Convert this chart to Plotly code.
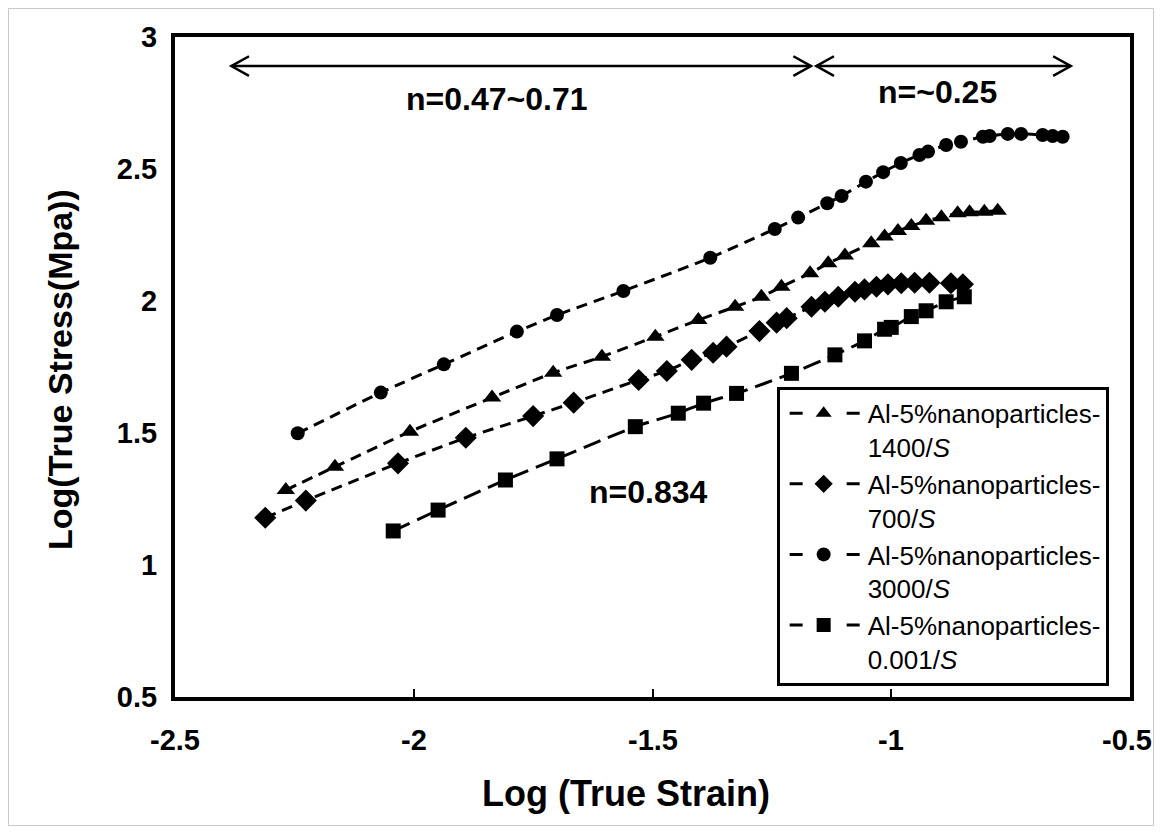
import plotly.graph_objects as go

# ---------------- data ----------------
x_1400 = [-2.268, -2.165, -2.008, -1.836, -1.708, -1.606, -1.494, -1.404, -1.327, -1.272,
          -1.230, -1.170, -1.132, -1.097, -1.042, -1.014, -0.986, -0.958, -0.927, -0.895,
          -0.861, -0.836, -0.805, -0.777]
y_1400 = [1.284, 1.372, 1.505, 1.634, 1.728, 1.789, 1.865, 1.928, 1.978, 2.016,
          2.054, 2.105, 2.143, 2.172, 2.219, 2.244, 2.265, 2.284, 2.304, 2.317,
          2.332, 2.336, 2.338, 2.342]

x_700 = [-2.311, -2.226, -2.033, -1.891, -1.750, -1.665, -1.529, -1.470, -1.418, -1.373,
         -1.345, -1.276, -1.240, -1.219, -1.167, -1.139, -1.111, -1.076, -1.056, -1.031,
         -1.007, -0.979, -0.951, -0.920, -0.875, -0.850]
y_700 = [1.179, 1.244, 1.385, 1.482, 1.564, 1.615, 1.701, 1.735, 1.777, 1.804,
         1.827, 1.886, 1.918, 1.935, 1.978, 1.997, 2.016, 2.035, 2.044, 2.054,
         2.063, 2.067, 2.069, 2.069, 2.067, 2.063]

x_3000 = [-2.243, -2.069, -1.937, -1.784, -1.700, -1.561, -1.379, -1.244, -1.195, -1.134,
          -1.104, -1.053, -1.017, -0.980, -0.941, -0.923, -0.885, -0.854, -0.808, -0.794,
          -0.756, -0.728, -0.683, -0.662, -0.641]
y_3000 = [1.499, 1.653, 1.760, 1.884, 1.947, 2.038, 2.164, 2.273, 2.316, 2.370,
          2.398, 2.452, 2.488, 2.523, 2.553, 2.566, 2.591, 2.603, 2.622, 2.625,
          2.633, 2.633, 2.629, 2.625, 2.622]

x_0001 = [-2.043, -1.949, -1.808, -1.700, -1.536, -1.446, -1.393, -1.324, -1.209, -1.118,
          -1.056, -1.014, -1.000, -0.958, -0.927, -0.885, -0.847]
y_0001 = [1.129, 1.208, 1.322, 1.402, 1.524, 1.575, 1.613, 1.650, 1.726, 1.796,
          1.849, 1.893, 1.900, 1.941, 1.963, 1.997, 2.016]

series_names = ["Al-5%nanoparticles-<br>1400/<i>S</i>",
                "Al-5%nanoparticles-<br>700/<i>S</i>",
                "Al-5%nanoparticles-<br>3000/<i>S</i>",
                "Al-5%nanoparticles-<br>0.001/<i>S</i>"]

xtick_vals = [-2.5, -2, -1.5, -1, -0.5]
xtick_text = ["-2.5", "-2", "-1.5", "-1", "-0.5"]
ytick_vals = [0.5, 1, 1.5, 2, 2.5, 3]
ytick_text = ["0.5", "1", "1.5", "2", "2.5", "3"]

# ---------------- layout constants ----------------
FONT = "Arial, Liberation Sans, sans-serif"
W, H = 1146, 818
ML, MR, MT, MB = 167, 24, 29, 129
PW, PH = W - ML - MR, H - MT - MB

fig = go.Figure()

styles = [
    (x_1400, y_1400, "triangle-up", 16, "11px,7px"),
    (x_700, y_700, "diamond", 17, "11px,7px"),
    (x_3000, y_3000, "circle", 14, "11px,7px"),
    (x_0001, y_0001, "square", 15, "18px,8px"),
]
for name, (xs, ys, sym, size, dash) in zip(series_names, styles):
    fig.add_trace(go.Scatter(
        x=xs, y=ys, mode="lines+markers", name=name, showlegend=False,
        line=dict(color="black", width=3, dash=dash, shape="spline", smoothing=0.6),
        marker=dict(symbol=sym, size=size, color="black"),
    ))
# legend entries ("- marker -" symbol as in the reference)
for name, (xs, ys, sym, size, dash) in zip(series_names, styles):
    fig.add_trace(go.Scatter(
        x=[None], y=[None], mode="lines+markers", name=name, showlegend=True,
        line=dict(color="black", width=3, dash="0px,5px,13px,44px,13px,10px"),
        marker=dict(symbol=sym, size=14, color="black"),
    ))

# ---------------- arrows ----------------
arrow_y = 2.89
arrows = [(-2.382, -1.168), (-1.157, -0.624)]
hx, hy = 0.037, 0.037
shapes = []
for a, b in arrows:
    shapes.append(dict(type="line", xref="x", yref="y", x0=a, x1=b, y0=arrow_y, y1=arrow_y,
                       line=dict(color="black", width=2.5)))
    shapes.append(dict(type="path", xref="x", yref="y",
                       path=f"M {a+hx},{arrow_y+hy} L {a},{arrow_y} L {a+hx},{arrow_y-hy}",
                       line=dict(color="black", width=2.5)))
    shapes.append(dict(type="path", xref="x", yref="y",
                       path=f"M {b-hx},{arrow_y+hy} L {b},{arrow_y} L {b-hx},{arrow_y-hy}",
                       line=dict(color="black", width=2.5)))

# figure border (light gray)
shapes.append(dict(type="rect", xref="paper", yref="paper",
                   x0=(-ML + 0.5) / PW, x1=1 + (MR - 0.5) / PW,
                   y0=-(MB - 0.5) / PH, y1=1 + (MT - 0.5) / PH,
                   line=dict(color="#c8c8c8", width=1), layer="below"))

bold32 = dict(family=FONT, size=32, color="black", weight="bold")
bold34 = dict(family=FONT, size=34, color="black", weight="bold")
bold36 = dict(family=FONT, size=36, color="black", weight="bold")
tickf = dict(family=FONT, size=29, color="black", weight="bold")
annotations = [
    dict(x=-1.827, y=2.764, xref="x", yref="y", text="n=0.47~0.71", showarrow=False, font=bold32),
    dict(x=-0.904, y=2.793, xref="x", yref="y", text="n=~0.25", showarrow=False, font=bold32),
    dict(x=-1.508, y=1.278, xref="x", yref="y", text="n=0.834", showarrow=False, font=bold32),
    dict(x=(626 - 8 - ML) / PW, y=(MT + PH - (793 - 8)) / PH, xref="paper", yref="paper",
         text="Log (True Strain)", xanchor="center", yanchor="middle", showarrow=False,
         font=bold36),
    dict(x=(60 - 8 - ML) / PW, y=(MT + PH - (370 - 8)) / PH, xref="paper", yref="paper",
         text="Log(True Stress(Mpa))", xanchor="center", yanchor="middle", textangle=-90,
         showarrow=False, font=bold34),
]
# x tick labels
for i, (v, t) in enumerate(zip(xtick_vals, xtick_text)):
    annotations.append(dict(x=v, y=(MT + PH - (740 - 8)) / PH, xref="x", yref="paper", text=t,
                            xanchor="center", yanchor="middle", showarrow=False, font=tickf,
                            xshift=-3 if i == len(xtick_vals) - 1 else 0))

fig.update_layout(
    width=W, height=H,
    margin=dict(l=ML, r=MR, t=MT, b=MB, autoexpand=False),
    paper_bgcolor="white", plot_bgcolor="white",
    font=dict(family=FONT, color="black"),
    shapes=shapes, annotations=annotations,
    legend=dict(
        x=0.63, y=0.47, xanchor="left", yanchor="top",
        bgcolor="white", bordercolor="black", borderwidth=3,
        font=dict(family=FONT, size=26, color="black"),
        itemwidth=78, valign="top", tracegroupgap=0,
    ),
    xaxis=dict(
        range=[-2.5, -0.5], tickvals=xtick_vals, showticklabels=False,
        ticks="inside", ticklen=8, tickwidth=2, tickcolor="black",
        showline=True, linewidth=4, linecolor="black", mirror=True,
        showgrid=False, zeroline=False,
    ),
    yaxis=dict(
        range=[0.5, 3], tickvals=ytick_vals, ticktext=ytick_text,
        ticks="", showline=True, linewidth=4, linecolor="black", mirror=True,
        showgrid=False, zeroline=False, ticklabelstandoff=8,
        tickfont=tickf,
    ),
)

fig.write_html("out.html")
